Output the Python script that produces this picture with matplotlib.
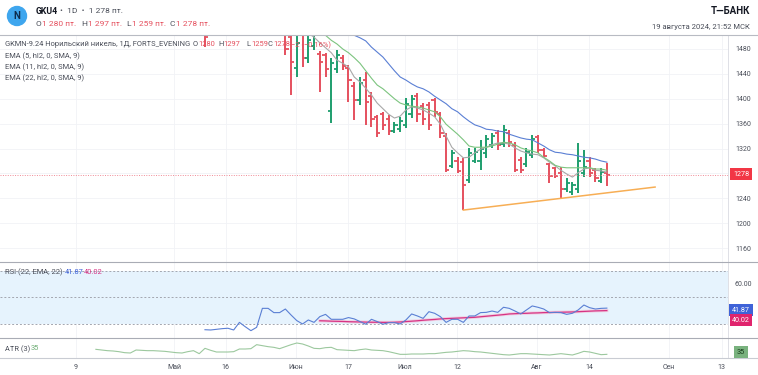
import matplotlib.pyplot as plt
from matplotlib.lines import Line2D
from matplotlib.patches import Ellipse

plt.rcParams['font.family'] = ['Roboto', 'DejaVu Sans']

W, H = 758, 375

# daily OHLC bars, last bar is 19 Aug (index 0)
opens = [1520, 1500, 1450, 1505, 1465, 1485, 1472, 1470, 1380, 1448,
         1466, 1450, 1420, 1398, 1430, 1405, 1370, 1375, 1368, 1348,
         1352, 1358, 1375, 1405, 1388, 1390, 1398, 1376, 1340, 1292,
         1300, 1298, 1270, 1300, 1300, 1312, 1325, 1345, 1328, 1345,
         1325, 1302, 1295, 1310, 1338, 1318, 1295, 1288, 1280, 1255,
         1250, 1255, 1280, 1300, 1285, 1268, 1280]
highs = [1530, 1525, 1520, 1515, 1510, 1515, 1476, 1474, 1466, 1478,
         1470, 1454, 1427, 1435, 1443, 1411, 1374, 1379, 1374, 1363,
         1371, 1401, 1406, 1409, 1393, 1395, 1401, 1379, 1345, 1318,
         1306, 1305, 1321, 1321, 1334, 1342, 1345, 1350, 1358, 1350,
         1330, 1306, 1321, 1342, 1342, 1321, 1297, 1290, 1290, 1273,
         1266, 1329, 1317, 1306, 1289, 1289, 1297]
lows = [1470, 1406, 1435, 1451, 1457, 1478, 1411, 1435, 1361, 1441,
        1446, 1395, 1366, 1390, 1358, 1355, 1338, 1350, 1342, 1345,
        1347, 1353, 1369, 1363, 1358, 1350, 1371, 1337, 1282, 1289,
        1280, 1221, 1265, 1297, 1285, 1305, 1321, 1318, 1322, 1322,
        1282, 1280, 1290, 1305, 1313, 1306, 1265, 1273, 1240, 1250,
        1245, 1248, 1274, 1274, 1266, 1265, 1259]
closes = [1480, 1459, 1490, 1465, 1495, 1505, 1459, 1448, 1457, 1470,
          1452, 1430, 1398, 1425, 1395, 1368, 1345, 1358, 1348, 1358,
          1365, 1392, 1400, 1375, 1368, 1358, 1378, 1345, 1285, 1312,
          1284, 1262, 1312, 1315, 1320, 1335, 1340, 1325, 1350, 1330,
          1285, 1285, 1315, 1335, 1318, 1308, 1275, 1276, 1255, 1265,
          1262, 1300, 1290, 1280, 1272, 1283, 1278]

# one earlier bar that only just reaches into view
early_bar = dict(pos=-70, o=1540, h=1560, l=1483, c=1500)

ema5 = [1540, 1530, 1520, 1512, 1505, 1499, 1490, 1482, 1474, 1462,
        1457, 1451, 1435, 1427, 1417, 1406, 1393, 1384, 1375, 1369,
        1372, 1382, 1387, 1385, 1382, 1377, 1371, 1359, 1340, 1322,
        1313, 1305, 1306, 1313, 1319, 1322, 1326, 1329, 1329, 1327,
        1321, 1316, 1313, 1311, 1310, 1305, 1298, 1292, 1285, 1279,
        1274, 1281, 1287, 1289, 1285, 1284, 1282]
ema11 = [1560, 1550, 1540, 1530, 1522, 1515, 1508, 1502, 1494, 1488,
         1480, 1474, 1466, 1457, 1445, 1433, 1422, 1416, 1408, 1400,
         1393, 1390, 1388, 1387, 1385, 1382, 1379, 1371, 1359, 1351,
         1343, 1334, 1324, 1322, 1322, 1322, 1324, 1327, 1330, 1329,
         1326, 1321, 1318, 1316, 1313, 1306, 1300, 1293, 1290, 1289,
         1289, 1289, 1289, 1289, 1287, 1287, 1285]
ema22 = [1600, 1590, 1580, 1570, 1560, 1550, 1540, 1532, 1524, 1516,
         1510, 1506, 1502, 1498, 1493, 1483, 1475, 1467, 1456, 1445,
         1435, 1430, 1424, 1419, 1416, 1411, 1404, 1398, 1392, 1384,
         1379, 1371, 1364, 1358, 1355, 1351, 1350, 1348, 1347, 1343,
         1340, 1337, 1335, 1334, 1329, 1324, 1318, 1314, 1313, 1311,
         1310, 1308, 1306, 1305, 1303, 1300, 1298]

trend_pos = [-25, 8.4]
trend_val = [1221, 1258]
last_price = 1278

rsi = [25.7, 25.5, 26.0, 26.5, 26.8, 25.5, 31.2, 28.0, 25.0, 27.5,
       41.7, 41.7, 38.5, 38.5, 41.2, 36.7, 32.5, 30.0, 33.0, 31.2,
       35.5, 37.2, 33.5, 33.5, 33.5, 34.8, 33.8, 31.8, 29.8, 33.5,
       31.8, 29.8, 31.0, 31.0, 30.0, 33.0, 37.5, 36.0, 34.2, 39.2,
       38.0, 35.5, 31.2, 33.5, 33.5, 31.2, 36.0, 36.0, 38.5, 38.7,
       39.7, 38.7, 42.5, 41.7, 39.7, 37.5, 40.5, 43.5, 42.5, 41.2,
       38.5, 38.7, 38.5, 37.2, 38.0, 40.5, 44.2, 42.2, 41.2, 41.7, 41.87]
rsi_ema = [32.4, 32.3, 32.1, 32.0, 31.9, 31.7, 31.6, 31.5, 31.4, 31.3,
           31.3, 31.2, 31.2, 31.3, 31.5, 31.8, 32.1, 32.4, 32.8, 33.1,
           33.4, 33.8, 34.0, 34.2, 34.4, 34.6, 34.8, 35.0, 35.4, 35.8,
           36.2, 36.6, 37.0, 37.5, 37.7, 37.9, 38.0, 38.2, 38.3, 38.5,
           38.6, 38.7, 38.8, 38.9, 39.0, 39.2, 39.4, 39.6, 39.8, 39.9, 40.02]
atr = [50, 48, 46, 45, 43, 40, 39, 48, 47, 46,
       46, 45, 44, 42, 40, 39, 43, 46, 37, 53,
       47, 42, 42, 42, 43, 51, 51, 52, 64, 61,
       58, 56, 52, 58, 64, 69, 66, 60, 53, 52,
       55, 56, 49, 48, 47, 46, 49, 51, 48, 47,
       46, 43, 39, 35, 35, 36, 36, 36, 37, 37,
       39, 41, 42, 44, 46, 45, 43, 42, 40, 38,
       36, 34, 33, 35, 37, 37, 36, 35, 34, 33,
       35, 37, 35, 33, 38, 44, 42, 38, 34, 35]

tick_pos = [-92.5, -75.4, -66.4, -54.2, -45.1, -35.2, -26.1, -12.2, -3.1, 10.8, 20.0]
tick_lab = ['9', 'Май', '16', 'Июн', '17', 'Июл', '12', 'Авг', '14', 'Сен', '13']
price_ticks = [1160, 1200, 1240, 1280, 1320, 1360, 1400, 1440, 1480]

RED = '#e5505e'
GREEN = '#1e9e6e'
TXT = '#4a4e59'
GRID = '#f1f2f6'


def fx(x):
    return x / W


def fy(y):
    return 1 - y / H


fig = plt.figure(figsize=(W / 100, H / 100), dpi=100)
fig.patch.set_facecolor('white')

ax = fig.add_axes([0, fy(262), fx(728), (262 - 35) / H])
ax_rsi = fig.add_axes([0, fy(338), fx(728), (338 - 262) / H], sharex=ax)
ax_atr = fig.add_axes([0, fy(358), fx(728), (358 - 338) / H], sharex=ax)

for a in (ax, ax_rsi, ax_atr):
    for s in a.spines.values():
        s.set_visible(False)
    a.spines['right'].set_visible(True)
    a.spines['right'].set_color('#d9dbe2')
    a.spines['right'].set_linewidth(0.6)
    a.yaxis.tick_right()
    a.tick_params(length=0, labelsize=5, labelcolor=TXT, pad=5)
    a.set_xticks(tick_pos)
    a.grid(True, color=GRID, lw=0.6)
    a.set_axisbelow(True)

n = len(closes)
pos = [i - (n - 1) for i in range(n)]

bars = list(zip(pos, opens, highs, lows, closes))
bars.append((early_bar['pos'], early_bar['o'], early_bar['h'], early_bar['l'], early_bar['c']))
for x, o, h, l, c in bars:
    col = GREEN if c >= o else RED
    ax.plot([x, x], [l, h], color=col, lw=1.4, solid_capstyle='butt')
    ax.plot([x - 0.55, x], [o, o], color=col, lw=1.3, solid_capstyle='butt')
    ax.plot([x, x + 0.55], [c, c], color=col, lw=1.3, solid_capstyle='butt')

ax.plot(pos, ema5, color='#a8a8a8', lw=0.8)
ax.plot(pos, ema11, color='#7cc47f', lw=0.8)
ax.plot(pos, ema22, color='#5a7fd4', lw=0.8)
ax.plot(trend_pos, trend_val, color='#f7ae55', lw=1.1)
ax.axhline(last_price, color='#f08a95', lw=0.7, ls=(0, (1, 1.5)))

ax.set_xlim(-105.7, 21.1)
ax.set_ylim(1137.5, 1502.5)
ax.set_yticks(price_ticks)
ax.set_yticklabels([str(p) if p != 1280 else '' for p in price_ticks])
ax.tick_params(axis='x', labelbottom=False)

# RSI pane
rsi_pos = [i - (len(rsi) - 1) for i in range(len(rsi))]
ema_pos = [i - (len(rsi_ema) - 1) for i in range(len(rsi_ema))]
ax_rsi.axhspan(30, 70, color='#e6f3fd', lw=0)
for lvl in (70, 50, 30):
    ax_rsi.axhline(lvl, color='#a3a6af', lw=0.7, ls=(0, (2, 2)))
ax_rsi.plot(ema_pos, rsi_ema, color='#f7b6cf', lw=2.2, alpha=0.6)
ax_rsi.plot(ema_pos, rsi_ema, color='#d63384', lw=0.9)
ax_rsi.plot(rsi_pos, rsi, color='#5a7fd4', lw=0.8)
ax_rsi.set_ylim(19.5, 76.4)
ax_rsi.set_yticks([60])
ax_rsi.set_yticklabels(['60.00'])
ax_rsi.tick_params(axis='x', labelbottom=False)

# ATR pane
atr_pos = [i - (len(atr) - 1) for i in range(len(atr))]
ax_atr.plot(atr_pos, atr, color='#9cc89e', lw=0.8)
ax_atr.set_ylim(24, 84)
ax_atr.set_yticks([])
ax_atr.set_xticklabels(tick_lab)
ax_atr.tick_params(axis='x', labelsize=5, labelcolor=TXT, pad=4)

# separators
for yy, col in ((35, '#b8bbc3'), (262, '#a9acb5'), (338, '#a9acb5'), (358, '#c9ccd3')):
    fig.add_artist(Line2D([0, 1], [fy(yy), fy(yy)], color=col, lw=0.8))

# header
fig.add_artist(Ellipse((fx(17), fy(16)), 19 / W, 19 / H, color='#3ea6ee'))
fig.text(fx(17), fy(16), 'N', ha='center', va='center', fontsize=7,
         fontweight='bold', color='#0e2c4d')
fig.text(fx(36), fy(11), 'GKU4', fontsize=6.3, fontweight='bold', color='#131722', va='center')
fig.text(fx(60), fy(11), '•  1D  •  1 278 пт.', fontsize=6, color=TXT, va='center')
for xx, lab, val in ((36, 'O', '1 280 пт.'), (81, 'H', '1 297 пт.'),
                     (126, 'L', '1 259 пт.'), (169, 'C', '1 278 пт.')):
    fig.text(fx(xx), fy(24), lab, fontsize=6, color=TXT, va='center')
    fig.text(fx(xx + 6.5), fy(24), val, fontsize=6, color=RED, va='center')
fig.text(fx(750), fy(11), 'Т—БАНК', fontsize=7, fontweight='bold', color='#131722',
         ha='right', va='center')
fig.text(fx(750), fy(27), '19 августа 2024, 21:52 МСК', fontsize=5.5, color=TXT,
         ha='right', va='center')

# legends
fig.text(fx(5), fy(45), 'GKMN-9.24 Норильский никель, 1Д, FORTS_EVENING',
         fontsize=5.4, color=TXT, va='center')
for xx, lab, val in ((193, 'O', '1280'), (218, 'H', '1297'), (246, 'L', '1259'), (268, 'C', '1278')):
    fig.text(fx(xx), fy(45), lab, fontsize=5.4, color=TXT, va='center')
    fig.text(fx(xx + 5.5), fy(45), val, fontsize=5.4, color=RED, va='center')
fig.text(fx(291), fy(45), '−2 (−0.16%)', fontsize=5.4, color=RED, va='center')
for yy, lab in ((56, 'EMA (5, hl2, 0, SMA, 9)'), (67, 'EMA (11, hl2, 0, SMA, 9)'),
                (78, 'EMA (22, hl2, 0, SMA, 9)')):
    fig.text(fx(5), fy(yy), lab, fontsize=5.4, color=TXT, va='center')

fig.text(fx(5), fy(272), 'RSI (22, EMA, 22)', fontsize=5.4, color=TXT, va='center')
fig.text(fx(65), fy(272), '41.87', fontsize=5.4, color='#3f63d8', va='center')
fig.text(fx(84), fy(272), '40.02', fontsize=5.4, color='#d63384', va='center')
fig.text(fx(5), fy(349), 'ATR (3)', fontsize=5.4, color=TXT, va='center')
fig.text(fx(31), fy(349), '35', fontsize=5.4, color='#6fae76', va='center')

# last value labels on the scale
for yy, lab, fc, tc in ((174, '1278', '#f23645', 'white'), (310, '41.87', '#3f63d8', 'white'),
                        (320, '40.02', '#e0246d', 'white'), (352, '35', '#79b27e', '#173b1b')):
    fig.text(fx(741), fy(yy), lab, fontsize=5.2, color=tc, ha='center', va='center',
             bbox=dict(boxstyle='square,pad=0.35', fc=fc, ec='none'))

fig.savefig('out.png', dpi=100, facecolor='white')
